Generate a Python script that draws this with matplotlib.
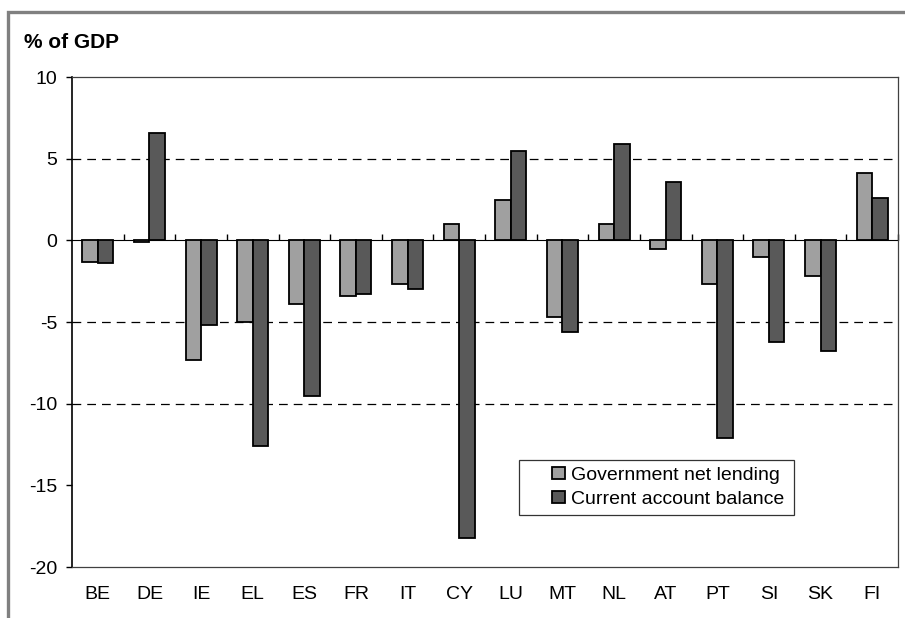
import numpy as np
import matplotlib.pyplot as plt
from matplotlib.patches import Rectangle
from matplotlib.container import BarContainer
from matplotlib.legend_handler import HandlerPatch, update_from_first_child

countries = ['BE', 'DE', 'IE', 'EL', 'ES', 'FR', 'IT', 'CY',
             'LU', 'MT', 'NL', 'AT', 'PT', 'SI', 'SK', 'FI']
gov_net_lending = [-1.3, -0.1, -7.3, -5.0, -3.9, -3.4, -2.7, 1.0,
                   2.5, -4.7, 1.0, -0.5, -2.7, -1.0, -2.2, 4.1]
current_account = [-1.4, 6.6, -5.2, -12.6, -9.5, -3.3, -3.0, -18.2,
                   5.5, -5.6, 5.9, 3.6, -12.1, -6.2, -6.8, 2.6]
y_ticks = [10, 5, 0, -5, -10, -15, -20]
grid_levels = [5, -5, -10]

plt.rcParams['font.family'] = ['Liberation Sans', 'DejaVu Sans']
plt.rcParams['axes.unicode_minus'] = False

fig = plt.figure(figsize=(9.05, 6.18), dpi=100)
ax = fig.add_axes([0.0796, 0.0825, 0.9127, 0.7929])

# outer grey frame (only top and left visible)
fig.patches.append(Rectangle((0.009, -0.1), 1.2, 1.08, transform=fig.transFigure,
                             fill=False, edgecolor='#808080', linewidth=2.4))

fig.text(0.027, 0.931, '% of GDP', fontsize=15, fontweight='bold', ha='left', va='center')

x = np.arange(len(countries))
w = 0.3
ax.bar(x - w / 2, gov_net_lending, w, color='#a0a0a0', edgecolor='black',
       linewidth=1.3, label='Government net lending', zorder=3)
ax.bar(x + w / 2, current_account, w, color='#595959', edgecolor='black',
       linewidth=1.3, label='Current account balance', zorder=3)

for g in grid_levels:
    ax.axhline(g, color='black', linestyle=(0, (7, 4.8)), linewidth=0.9, zorder=1)

ax.set_xlim(-0.5, len(countries) - 0.5)
ax.set_ylim(-20, 10)
ax.set_yticks(y_ticks)
ax.tick_params(axis='y', direction='out', length=4.5, width=1, pad=6, labelsize=14)
ax.set_xticks(x, countries)
ax.tick_params(axis='x', length=0, pad=14, labelsize=14)

for side in ['top', 'right', 'bottom']:
    ax.spines[side].set_color('#404040')
    ax.spines[side].set_linewidth(0.9)
ax.spines['left'].set_color('black')
ax.spines['left'].set_linewidth(1.2)

# zero line with category boundary ticks
zero_ax = ax.secondary_xaxis(20 / 30)
zero_ax.set_xticks(np.arange(len(countries)) + 0.5)
zero_ax.set_xticklabels([])
zero_ax.tick_params(direction='out', length=4.5, width=1, color='black')
zero_ax.spines['bottom'].set_color('black')
zero_ax.spines['bottom'].set_linewidth(1.2)
zero_ax.spines['bottom'].set_zorder(4)


# small square legend marker sitting at the right of the handle box
def square_patch(legend, orig_handle, xdescent, ydescent, width, height, fontsize):
    side = height
    return Rectangle((width - side - xdescent, -ydescent), side, side)


leg = ax.legend(loc='lower left', bbox_to_anchor=(0.541, 0.107, 0.333, 0.1),
                mode='expand', fontsize=14,
                frameon=True, fancybox=False, edgecolor='black', borderpad=0.35,
                handlelength=2.0, handleheight=0.6, handletextpad=0.35,
                labelspacing=0.35, borderaxespad=0,
                handler_map={BarContainer: HandlerPatch(patch_func=square_patch,
                                                        update_func=update_from_first_child)})
leg.get_frame().set_linewidth(0.9)

fig.savefig('out.png', dpi=100)
